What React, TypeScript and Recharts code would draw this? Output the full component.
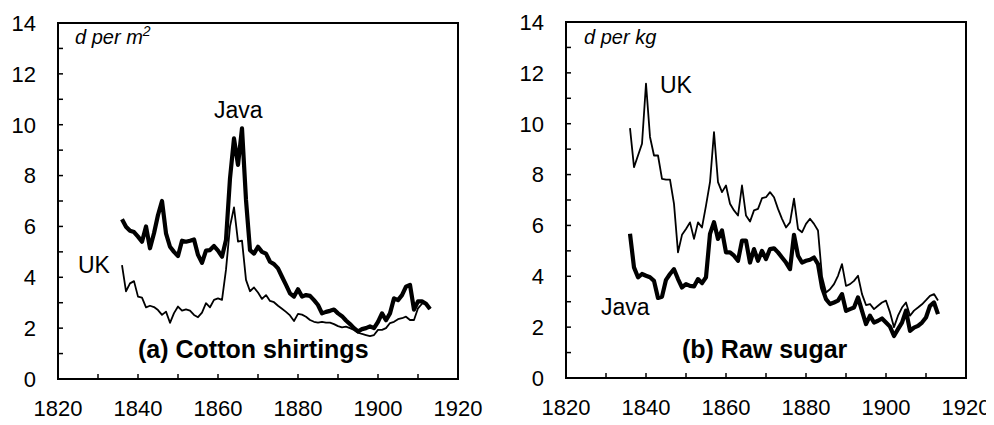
import { Line, LineChart, ReferenceArea, XAxis, YAxis } from 'recharts';

const years = [
  1836, 1837, 1838, 1839, 1840, 1841, 1842, 1843, 1844, 1845, 1846, 1847, 1848, 1849, 1850,
  1851, 1852, 1853, 1854, 1855, 1856, 1857, 1858, 1859, 1860, 1861, 1862, 1863, 1864, 1865,
  1866, 1867, 1868, 1869, 1870, 1871, 1872, 1873, 1874, 1875, 1876, 1877, 1878, 1879, 1880,
  1881, 1882, 1883, 1884, 1885, 1886, 1887, 1888, 1889, 1890, 1891, 1892, 1893, 1894, 1895,
  1896, 1897, 1898, 1899, 1900, 1901, 1902, 1903, 1904, 1905, 1906, 1907, 1908, 1909, 1910,
  1911, 1912, 1913,
];

// (a) cotton shirtings, d per m2
const cottonJava = [
  6.28, 5.99, 5.83, 5.78, 5.6, 5.4, 6.0, 5.14, 5.73, 6.45, 7.0, 5.73, 5.2, 5.0, 4.84,
  5.44, 5.4, 5.44, 5.49, 4.88, 4.57, 5.05, 5.07, 5.23, 5.05, 4.81, 5.47, 7.89, 9.46, 8.42,
  9.86, 7.04, 5.07, 4.93, 5.2, 5.0, 4.93, 4.61, 4.52, 4.35, 4.02, 3.7, 3.37, 3.24, 3.53,
  3.24, 3.3, 3.27, 3.1, 2.91, 2.58, 2.64, 2.68, 2.73, 2.58, 2.47, 2.3, 2.16, 2.0, 1.87,
  1.96, 2.0, 2.07, 2.0, 2.25, 2.58, 2.31, 2.58, 3.17, 3.1, 3.3, 3.63, 3.7, 2.73, 3.05,
  3.05, 2.96, 2.75,
];
const cottonUK = [
  4.48, 3.45, 3.76, 3.85, 3.24, 3.2, 2.82, 2.88, 2.83, 2.71, 2.52, 2.65, 2.21, 2.59, 2.85,
  2.69, 2.74, 2.69, 2.52, 2.43, 2.61, 2.98, 2.82, 3.11, 3.17, 3.11, 4.3, 6.0, 6.75, 5.4,
  5.44, 3.9, 3.45, 3.6, 3.4, 3.15, 3.3, 3.07, 3.02, 2.88, 2.76, 2.64, 2.5, 2.28, 2.56,
  2.53, 2.45, 2.32, 2.25, 2.22, 2.25, 2.22, 2.22, 2.16, 2.08, 2.03, 2.06, 2.0, 1.93, 1.82,
  1.77, 1.73, 1.69, 1.73, 1.93, 1.93, 2.0, 2.2, 2.25, 2.35, 2.39, 2.45, 2.32, 2.32, 2.78,
  2.96, 3.0, 2.75,
];

// (b) raw sugar, d per kg
const sugarUK = [
  9.83, 8.29, 8.75, 9.21, 11.58, 9.48, 8.75, 8.75, 7.83, 7.8, 7.8, 6.85, 4.94, 5.63, 5.86,
  6.12, 5.47, 6.12, 5.92, 6.78, 7.7, 9.67, 7.7, 7.31, 7.57, 6.85, 6.59, 6.39, 7.57, 6.39,
  6.15, 6.59, 6.65, 7.07, 7.11, 7.31, 7.11, 6.65, 6.26, 5.92, 6.12, 7.05, 5.86, 5.73, 6.06,
  6.26, 6.06, 5.8, 3.99, 3.36, 3.49, 3.69, 4.02, 4.48, 3.62, 3.69, 3.82, 4.02, 3.3, 2.87,
  2.91, 2.71, 2.84, 2.97, 3.04, 2.58, 2.0, 2.45, 2.77, 2.97, 2.45, 2.65, 2.77, 2.9, 3.06,
  3.23, 3.3, 3.05,
];
const sugarJava = [
  5.67, 4.35, 3.96, 4.09, 4.02, 3.96, 3.82, 3.15, 3.2, 3.86, 4.09, 4.28, 3.89, 3.56, 3.69,
  3.62, 3.6, 3.89, 3.73, 3.96, 5.67, 6.13, 5.47, 5.8, 4.94, 4.94, 4.81, 4.61, 5.4, 5.4,
  4.54, 5.07, 4.61, 5.0, 4.68, 5.07, 5.1, 4.94, 4.74, 4.54, 4.28, 5.63, 4.81, 4.54, 4.61,
  4.65, 4.74, 4.48, 3.56, 3.1, 2.91, 2.97, 3.04, 3.3, 2.64, 2.71, 2.77, 3.17, 2.64, 2.12,
  2.45, 2.18, 2.25, 2.34, 2.18, 2.02, 1.65, 1.92, 2.18, 2.65, 1.85, 1.98, 2.05, 2.18, 2.38,
  2.84, 2.97, 2.51,
];

const xTicks = [1820, 1830, 1840, 1850, 1860, 1870, 1880, 1890, 1900, 1910, 1920];
const yTicks = [0, 1, 2, 3, 4, 5, 6, 7, 8, 9, 10, 11, 12, 13, 14];

const FONT = '"Liberation Sans", Arial, sans-serif';
const Y_GAP = 22;
const X_GAP = 24;

function YTick(props: any) {
  const { x, y, payload } = props;
  const ax = x + Y_GAP;
  return (
    <g>
      <line x1={ax} x2={ax + 5} y1={y} y2={y} stroke="#000" strokeWidth={1.5} />
      {payload.value % 2 === 0 && (
        <text x={x} y={y} dy="0.36em" textAnchor="end" fontSize={22} fontFamily={FONT} fill="#000">
          {payload.value}
        </text>
      )}
    </g>
  );
}

function XTick(props: any) {
  const { x, y, payload } = props;
  const ay = y - X_GAP;
  return (
    <g>
      <line x1={x} x2={x} y1={ay} y2={ay - 5} stroke="#000" strokeWidth={1.5} />
      {payload.value % 20 === 0 && (
        <text x={x} y={y} dy="0.6em" textAnchor="middle" fontSize={22} fontFamily={FONT} fill="#000">
          {payload.value}
        </text>
      )}
    </g>
  );
}

function Panel({ data }: { data: { year: number; java: number; uk: number }[] }) {
  return (
    <LineChart width={486} height={425} data={data} margin={{ top: 23, right: 28, bottom: 0, left: 0 }}>
      <XAxis
        dataKey="year"
        type="number"
        domain={[1820, 1920]}
        ticks={xTicks}
        interval={0}
        height={46}
        tickSize={0}
        tickMargin={X_GAP}
        tickLine={false}
        axisLine={{ stroke: '#000', strokeWidth: 2 }}
        tick={<XTick />}
      />
      <YAxis
        type="number"
        domain={[0, 14]}
        ticks={yTicks}
        interval={0}
        width={58}
        tickSize={0}
        tickMargin={Y_GAP}
        tickLine={false}
        axisLine={{ stroke: '#000', strokeWidth: 2 }}
        tick={<YTick />}
      />
      <ReferenceArea x1={1820} x2={1920} y1={0} y2={14} fill="none" stroke="#000" strokeWidth={2} />
      <Line
        type="linear"
        dataKey="uk"
        stroke="#000"
        strokeWidth={1.8}
        strokeLinejoin="round"
        dot={false}
        isAnimationActive={false}
      />
      <Line
        type="linear"
        dataKey="java"
        stroke="#000"
        strokeWidth={4.2}
        strokeLinejoin="round"
        dot={false}
        isAnimationActive={false}
      />
    </LineChart>
  );
}

export default function App() {
  const cotton = years.map((year, i) => ({ year, java: cottonJava[i], uk: cottonUK[i] }));
  const sugar = years.map((year, i) => ({ year, java: sugarJava[i], uk: sugarUK[i] }));

  return (
    <div
      style={{
        position: 'relative',
        width: 994,
        height: 425,
        margin: -8,
        overflow: 'hidden',
        background: '#fff',
        fontFamily: FONT,
      }}
    >
      <div style={{ position: 'absolute', left: 0, top: 0 }}>
        <Panel data={cotton} />
      </div>
      <div style={{ position: 'absolute', left: 508, top: -1 }}>
        <Panel data={sugar} />
      </div>
      <svg width={994} height={425} style={{ position: 'absolute', left: 0, top: 0, pointerEvents: 'none' }}>
        <g fontFamily={FONT} fill="#000">
          <text x={75} y={44} fontSize={20} fontStyle="italic">
            d per m<tspan dy={-8} fontSize={14}>2</tspan>
          </text>
          <text x={214} y={118} fontSize={23}>Java</text>
          <text x={78} y={273} fontSize={23}>UK</text>
          <text x={138} y={358} fontSize={25} fontWeight="bold">(a) Cotton shirtings</text>

          <text x={584} y={44} fontSize={20} fontStyle="italic">d per kg</text>
          <text x={660} y={93} fontSize={23}>UK</text>
          <text x={601} y={315} fontSize={23}>Java</text>
          <text x={682} y={358} fontSize={25} fontWeight="bold">(b) Raw sugar</text>
        </g>
      </svg>
    </div>
  );
}
